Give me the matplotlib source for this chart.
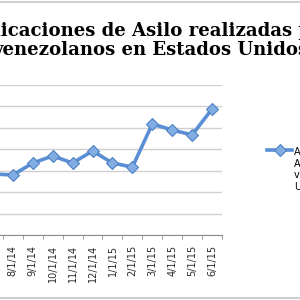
import matplotlib
matplotlib.use("Agg")
import matplotlib.pyplot as plt
from matplotlib.patches import Rectangle

# datos (la escala vertical esta fuera del recorte)
meses = ['7/1/14', '8/1/14', '9/1/14', '10/1/14', '11/1/14', '12/1/14',
         '1/1/15', '2/1/15', '3/1/15', '4/1/15', '5/1/15', '6/1/15']
solicitudes = [285, 280, 336, 369, 336, 392, 336, 317, 518, 490, 467, 588]
y_ticks = [0, 100, 200, 300, 400, 500, 600, 700]

titulo = 'Aplicaciones de Asilo realizadas por\nvenezolanos en Estados Unidos'
serie = 'Aplicaciones de\nAsilo realizadas por\nvenezolanos en Estados\nUnidos'

azul = '#5B8FD5'

fig = plt.figure(figsize=(3, 3), dpi=100)

# marco del area del grafico (se sale por los lados)
fig.patches.append(Rectangle((-0.5, 0.008), 2.0, 0.984, transform=fig.transFigure,
                             fill=False, edgecolor='#D0D0D0', linewidth=1.5))

ax = fig.add_axes([-17 / 300, 65 / 300, 239 / 300, 150 / 300])
x = list(range(len(meses)))
ax.plot(x, solicitudes, color=azul, linewidth=2.6, marker='D', markersize=6.6,
        markerfacecolor='#82ADE3', markeredgecolor='#4E80C4', markeredgewidth=0.8,
        label=serie)

ax.set_xlim(-0.5, len(meses) - 0.5)
ax.set_ylim(0, 700)
ax.set_yticks(y_ticks)
ax.yaxis.grid(True, color='#D0D0D0', linewidth=1)
ax.set_axisbelow(True)

ax.set_xticks(x)
ax.set_xticklabels(meses, rotation=90, fontsize=7, color='#2B2B2B')
ax.set_xticks([i + 0.5 for i in range(-1, len(meses))], minor=True)
ax.tick_params(axis='x', which='major', length=0, pad=7)
ax.tick_params(axis='x', which='minor', length=3, color='#8C8C8C')
ax.tick_params(axis='y', length=0, labelleft=False)

for s in ['top', 'right', 'left']:
    ax.spines[s].set_visible(False)
ax.spines['bottom'].set_color('#8C8C8C')

fig.text(0.5, 1 - 22 / 300, titulo, ha='center', va='top', fontsize=13.1,
         fontweight='bold', family='DejaVu Serif', linespacing=1.06)

leg = fig.legend(loc='upper left', bbox_to_anchor=(267 / 300, 1 - 147 / 300),
                 frameon=False, fontsize=7, handlelength=2.6, handletextpad=0.2,
                 borderpad=0, borderaxespad=0)
# alinear la muestra con la primera linea del texto, como en Excel
for col in leg._legend_handle_box.get_children():
    for row in col.get_children():
        row.align = 'top'

fig.savefig('out.png', dpi=100)
